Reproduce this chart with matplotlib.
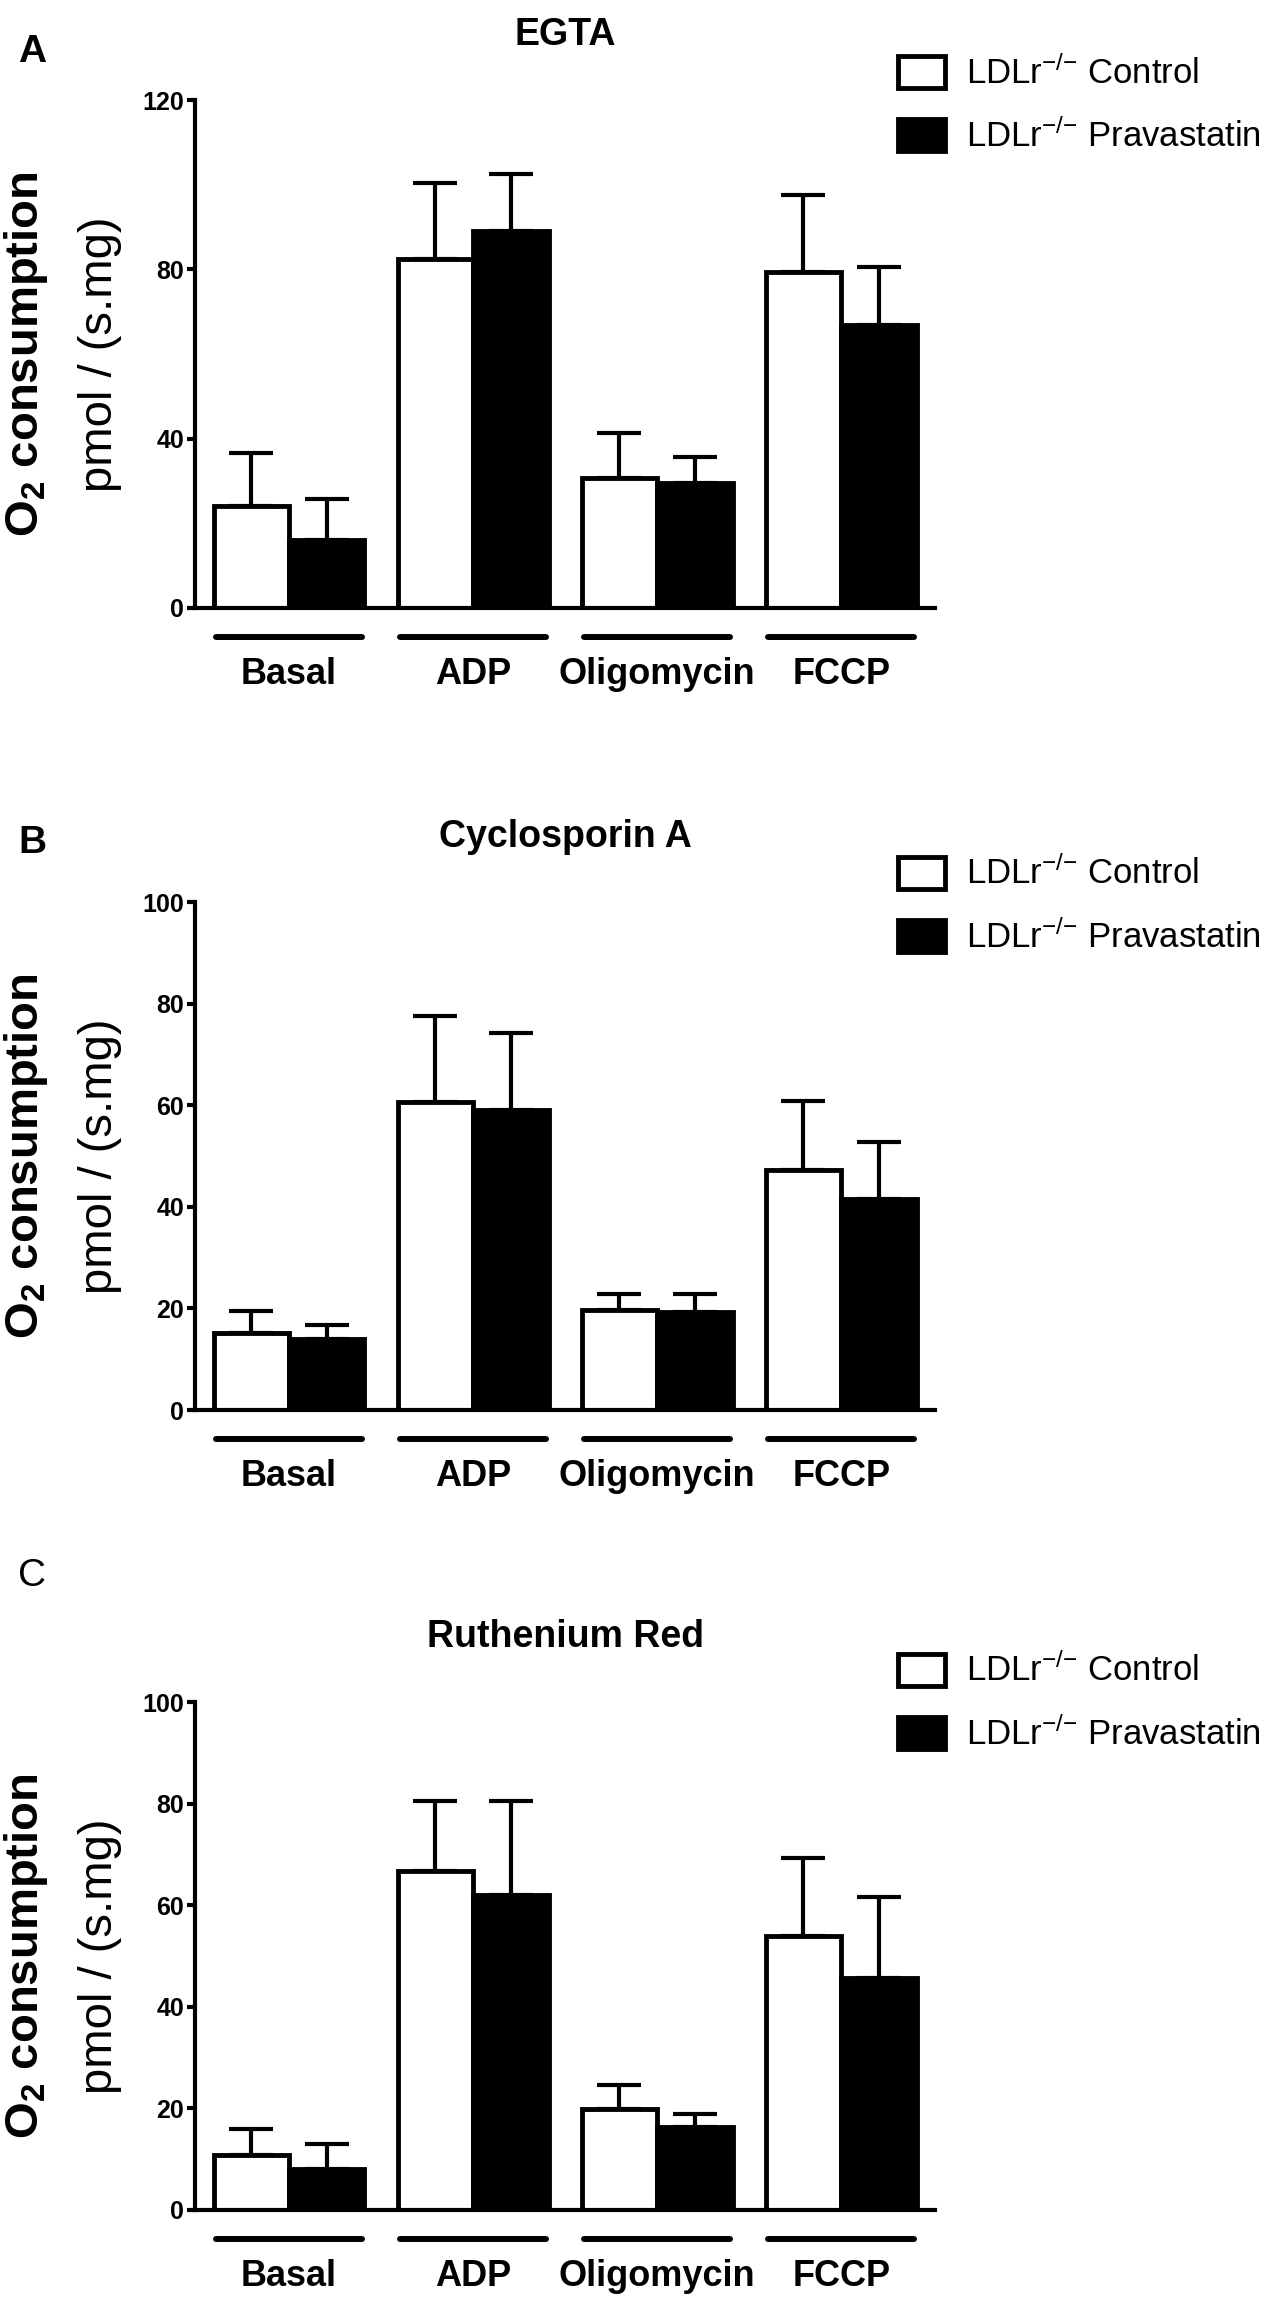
import matplotlib
matplotlib.use("Agg")
import matplotlib.pyplot as plt
import numpy as np

# data
groups = ["Basal", "ADP", "Oligomycin", "FCCP"]
titles = ["EGTA", "Cyclosporin A", "Ruthenium Red"]
letters = ["A", "B", "C"]

egta_ctrl = [24.2, 82.5, 30.7, 79.3]
egta_ctrl_err = [12.3, 18.0, 10.7, 18.2]
egta_prav = [16.1, 89.1, 29.6, 66.8]
egta_prav_err = [9.7, 13.5, 6.1, 13.8]

csa_ctrl = [15.1, 60.6, 19.6, 47.2]
csa_ctrl_err = [4.3, 17.0, 3.3, 13.6]
csa_prav = [14.0, 59.0, 19.3, 41.5]
csa_prav_err = [2.8, 15.2, 3.6, 11.3]

rr_ctrl = [10.8, 66.7, 19.8, 53.9]
rr_ctrl_err = [5.1, 13.9, 4.9, 15.3]
rr_prav = [8.0, 62.0, 16.3, 45.7]
rr_prav_err = [4.9, 18.6, 2.5, 15.9]

ymax = [120, 100, 100]
yticks = [[0, 40, 80, 120], [0, 20, 40, 60, 80, 100], [0, 20, 40, 60, 80, 100]]

plt.rcParams["font.family"] = ["Liberation Sans", "DejaVu Sans"]
plt.rcParams["mathtext.default"] = "regular"

fig = plt.figure(figsize=(12.67, 23.10), dpi=100)

bottoms = [0.7368, 0.3896, 0.0433]
h = 0.2199
left, width = 0.154, 0.584
bw = 0.41
x = np.arange(len(groups))

data = [
    (egta_ctrl, egta_ctrl_err, egta_prav, egta_prav_err),
    (csa_ctrl, csa_ctrl_err, csa_prav, csa_prav_err),
    (rr_ctrl, rr_ctrl_err, rr_prav, rr_prav_err),
]
letter_y = [52, 843, 1576]
letter_w = ["bold", "bold", "normal"]
legend_top = [55, 856, 1653]

for i, (c, ce, p, pe) in enumerate(data):
    ax = fig.add_axes([left, bottoms[i], width, h])
    b1 = ax.bar(x - bw / 2, c, bw, color="white", edgecolor="black", linewidth=3.5,
                label="LDLr$^{{-}/{-}}$ Control", zorder=2)
    b2 = ax.bar(x + bw / 2, p, bw, color="black", edgecolor="black", linewidth=3.5,
                label="LDLr$^{{-}/{-}}$ Pravastatin", zorder=2)
    ax.errorbar(x - bw / 2, c, yerr=[np.zeros(4), ce], fmt="none", ecolor="black",
                elinewidth=3, capsize=16, capthick=3, zorder=1)
    ax.errorbar(x + bw / 2, p, yerr=[np.zeros(4), pe], fmt="none", ecolor="black",
                elinewidth=3, capsize=16, capthick=3, zorder=1)

    ax.set_xlim(-0.51, 3.51)
    ax.set_ylim(0, ymax[i])
    ax.set_yticks(yticks[i])
    ax.tick_params(axis="y", length=6, width=3, pad=2, direction="out")
    for lab in ax.get_yticklabels():
        lab.set_fontweight("bold")
        lab.set_fontsize(18)
    ax.set_xticks(x)
    ax.set_xticklabels(groups, fontweight="bold", fontsize=26)
    ax.tick_params(axis="x", length=0, pad=35)
    for s in ["top", "right"]:
        ax.spines[s].set_visible(False)
    for s in ["left", "bottom"]:
        ax.spines[s].set_linewidth(3)

    # group underlines
    for g in x:
        ax.plot([g - 0.395, g + 0.395], [-0.058, -0.058], color="black", lw=4.3,
                solid_capstyle="round", transform=ax.get_xaxis_transform(), clip_on=False)

    ax.text(0.5, 1 + 65 / 508, titles[i], transform=ax.transAxes, ha="center", va="center",
            fontweight="bold", fontsize=27)

    ax.text(-0.228, 0.5, "O$_2$ consumption", transform=ax.transAxes, rotation=90,
            ha="center", va="center", fontweight="bold", fontsize=34)
    ax.text(-0.128, 0.5, "pmol / (s.mg)", transform=ax.transAxes, rotation=90,
            ha="center", va="center", fontsize=34)

    fig.text(32 / 1267, 1 - letter_y[i] / 2310, letters[i], ha="center", va="center",
             fontsize=28, fontweight=letter_w[i])

    ax.legend(handles=[b1, b2], loc="upper left",
              bbox_to_anchor=(898 / 1267, 1 - legend_top[i] / 2310),
              bbox_transform=fig.transFigure, frameon=False, fontsize=25,
              handlelength=1.35, handleheight=1.05, handletextpad=0.6,
              labelspacing=0.8, borderpad=0, borderaxespad=0)

fig.savefig("out.png", dpi=100)
